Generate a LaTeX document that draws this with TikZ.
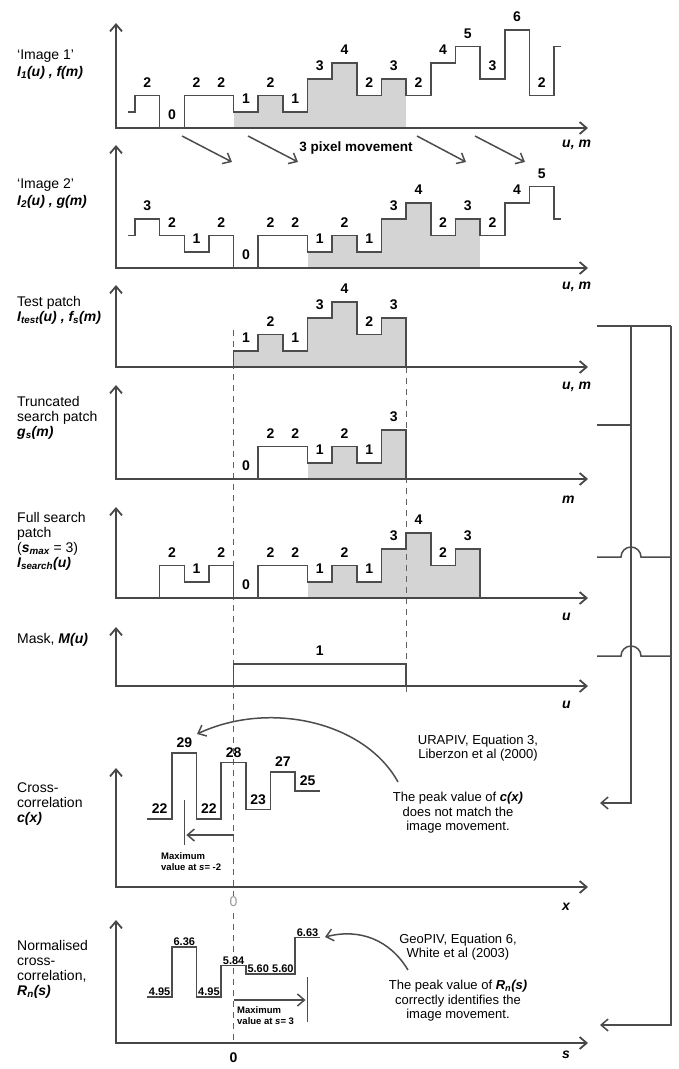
\documentclass[tikz,border=0pt]{standalone}
\usepackage{fontspec}
\setmainfont{Liberation Sans}
\usetikzlibrary{arrows.meta,positioning}
\newcommand{\vb}[1]{\textbf{\textit{#1}}}
\def\xo{135}\def\cw{24.65}\def\lh{16.3}

\begin{document}
\begin{tikzpicture}[x=1pt,y=-1pt,>={Straight Barb[length=7pt,width=12pt]},
 font=\fontsize{14}{15}\selectfont,
 ax/.style={draw=black!72,line width=1.8pt,<->},
 sig/.style={draw=black!70,line width=1.6pt},
 patch/.style={fill=black!17},
 val/.style={font=\fontsize{14}{15}\selectfont\bfseries,inner sep=0pt,anchor=south,yshift=8pt},
 cval/.style={val,yshift=-3pt},
 rval/.style={font=\fontsize{11}{12}\selectfont\bfseries,inner sep=0pt,anchor=south,yshift=1pt},
 lbl/.style={anchor=west,align=left,inner sep=0pt},
 axl/.style={anchor=west,inner sep=0pt,font=\fontsize{14}{15}\selectfont\bfseries\itshape},
 note/.style={align=center,inner sep=0pt,font=\fontsize{13}{14.5}\selectfont},
 small/.style={anchor=west,align=left,inner sep=0pt,font=\fontsize{9.5}{11}\selectfont\bfseries},
 lead/.style={draw=black!70,line width=1.5pt},
 guide/.style={draw=black!62,line width=1.3pt,dash pattern=on 6pt off 5pt}]
\useasboundingbox (0,0) rectangle (678,1069);

\node[lbl] (l1) at (17,64.5) {`Image 1'\\[2pt]\vb{I\textsubscript{1}(u) , f(m)}};
\node[lbl] (l2) at (17,193.5) {`Image 2'\\[2pt]\vb{I\textsubscript{2}(u) , g(m)}};
\node[lbl] (l3) at (17,310.5) {Test patch\\\vb{I\textsubscript{test}(u) , f\textsubscript{s}(m)}};
\node[lbl] (l4) at (17,418) {Truncated\\search patch\\\vb{g\textsubscript{s}(m)}};
\node[lbl] (l5) at (17,541) {Full search\\patch\\(\vb{s\textsubscript{max}} = 3)\\\vb{I\textsubscript{search}(u)}};
\node[lbl] (l6) at (17,640) {Mask, \vb{M(u)}};
\node[lbl] (l7) at (17,804.5) {Cross-\\correlation\\\vb{c(x)}};
\node[lbl] (l8) at (17,969) {Normalised\\cross-\\correlation,\\\vb{R\textsubscript{n}(s)}};

\foreach \v [count=\i from 4] in {1,2,1,3,4,2,3} \fill[patch] ({\xo+\i*\cw},128) rectangle ({\xo+(\i+1)*\cw},{128-\v*\lh});
\foreach \v [count=\i from 7] in {1,2,1,3,4,2,3} \fill[patch] ({\xo+\i*\cw},268) rectangle ({\xo+(\i+1)*\cw},{268-\v*\lh});
\foreach \v [count=\i from 4] in {1,2,1,3,4,2,3} \fill[patch] ({\xo+\i*\cw},367) rectangle ({\xo+(\i+1)*\cw},{367-\v*\lh});
\foreach \v [count=\i from 7] in {1,2,1,3} \fill[patch] ({\xo+\i*\cw},479) rectangle ({\xo+(\i+1)*\cw},{479-\v*\lh});
\foreach \v [count=\i from 7] in {1,2,1,3,4,2,3} \fill[patch] ({\xo+\i*\cw},598) rectangle ({\xo+(\i+1)*\cw},{598-\v*\lh});

\coordinate (g0) at ({\xo+4*\cw},330); \coordinate (g1) at ({\xo+4*\cw},1043);
\coordinate (h0) at ({\xo+11*\cw},367); \coordinate (h1) at ({\xo+11*\cw},695);
\draw[guide] (g0) -- (g1); \draw[guide] (h0) -- (h1);

\foreach \ya/\yb in {23/128,145/268,285/367,385/479,507/598,627/686,768/887,920/1043}
 \draw[ax] (116,\ya) |- (588,\yb);
\foreach \y/\s [count=\k] in {145/{u, m},287/{u, m},387/{u, m},500/m,617/u,705/u,907/x,1055/s}
 \node[axl] (ax\k) at (562,\y) {\s};

\draw[sig] (128,{128-\lh}) -- (\xo,{128-\lh}) \foreach \v [count=\i from 0] in {2,0,2,2,1,2,1,3,4,2,3,2,4,5,3,6,2}
 {-- ({\xo+\i*\cw},{128-\v*\lh}) -- ({\xo+(\i+1)*\cw},{128-\v*\lh})} -- ({\xo+17*\cw},{128-5*\lh}) -- ++(7,0);
\foreach \v [count=\i from 0] in {2,0,2,2,1,2,1,3,4,2,3,2,4,5,3,6,2}
 \node[val] (a\i) at ({\xo+(\i+.5)*\cw},{128-\v*\lh}) {\v};

\draw[sig] (128,{268-2*\lh}) -- (\xo,{268-2*\lh}) \foreach \v [count=\i from 0] in {3,2,1,2,0,2,2,1,2,1,3,4,2,3,2,4,5}
 {-- ({\xo+\i*\cw},{268-\v*\lh}) -- ({\xo+(\i+1)*\cw},{268-\v*\lh})} -- ({\xo+17*\cw},{268-3*\lh}) -- ++(7,0);
\foreach \v [count=\i from 0] in {3,2,1,2,0,2,2,1,2,1,3,4,2,3,2,4,5}
 \node[val] (b\i) at ({\xo+(\i+.5)*\cw},{268-\v*\lh}) {\v};

\draw[sig] ({\xo+4*\cw},367) \foreach \v [count=\i from 4] in {1,2,1,3,4,2,3}
 {-- ({\xo+\i*\cw},{367-\v*\lh}) -- ({\xo+(\i+1)*\cw},{367-\v*\lh})} -- ({\xo+11*\cw},367);
\foreach \v [count=\i from 4] in {1,2,1,3,4,2,3}
 \node[val] (t\i) at ({\xo+(\i+.5)*\cw},{367-\v*\lh}) {\v};

\draw[sig] ({\xo+4*\cw},479) \foreach \v [count=\i from 4] in {0,2,2,1,2,1,3}
 {-- ({\xo+\i*\cw},{479-\v*\lh}) -- ({\xo+(\i+1)*\cw},{479-\v*\lh})} -- ({\xo+11*\cw},479);
\foreach \v [count=\i from 4] in {0,2,2,1,2,1,3}
 \node[val] (r\i) at ({\xo+(\i+.5)*\cw},{479-\v*\lh}) {\v};

\draw[sig] ({\xo+\cw},598) \foreach \v [count=\i from 1] in {2,1,2,0,2,2,1,2,1,3,4,2,3}
 {-- ({\xo+\i*\cw},{598-\v*\lh}) -- ({\xo+(\i+1)*\cw},{598-\v*\lh})} -- ({\xo+14*\cw},598);
\foreach \v [count=\i from 1] in {2,1,2,0,2,2,1,2,1,3,4,2,3}
 \node[val] (f\i) at ({\xo+(\i+.5)*\cw},{598-\v*\lh}) {\v};

\draw[sig] ({\xo+4*\cw},686) -- ({\xo+4*\cw},664) -- ({\xo+11*\cw},664) -- ({\xo+11*\cw},686);
\node[val] (mk) at ({\xo+7.5*\cw},664) {1};

\draw[sig] ({\xo+.5*\cw},819) \foreach \v [count=\i] in {22,29,22,28,23,27,25}
 {-- ({\xo+(\i-.5)*\cw},{819-(\v-22)*9.43}) -- ({\xo+(\i+.5)*\cw},{819-(\v-22)*9.43})};
\foreach \v [count=\i] in {22,29,22,28,23,27,25}
 \node[cval] (c\i) at ({\xo+\i*\cw},{819-(\v-22)*9.43}) {\v};

\draw[sig] ({\xo+.5*\cw},997) \foreach \v [count=\i] in {4.95,6.36,4.95,5.84,5.60,5.60,6.63}
 {-- ({\xo+(\i-.5)*\cw},{997-(\v-4.95)*35.5}) -- ({\xo+(\i+.5)*\cw},{997-(\v-4.95)*35.5})};
\foreach \v/\s [count=\i] in {4.95/4.95,6.36/6.36,4.95/4.95,5.84/5.84,5.60/5.60,5.60/5.60,6.63/6.63}
 \node[rval] (n\i) at ({\xo+\i*\cw},{997-(\v-4.95)*35.5}) {\s};

\node[fill=white,inner sep=1pt,text=black!40] (z1) at ({\xo+4*\cw},902) {0};
\node[font=\fontsize{14}{15}\selectfont\bfseries] (z2) at ({\xo+4*\cw},1058) {0};

\coordinate (cxa) at ({\xo+2*\cw},800); \coordinate (cxb) at ({\xo+2*\cw},845); \coordinate (cx0) at ({\xo+4*\cw},835);
\draw[lead] (cxa) -- (cxb); \draw[lead,->,shorten >=2pt] (cx0) -- (cx0 -| cxa);
\node[small] (mxc) at (161,862) {Maximum\\value at \textit{s}= -2};
\coordinate (rxa) at ({\xo+7*\cw},977); \coordinate (rxb) at ({\xo+7*\cw},1022); \coordinate (rx0) at ({\xo+4*\cw},1000);
\draw[lead] (rxa) -- (rxb); \draw[lead,->,shorten >=2pt] (rx0) -- (rx0 -| rxa);
\node[small] (mxr) at (237,1016) {Maximum\\value at \textit{s}= 3};

\node[note,font=\fontsize{13.5}{15}\selectfont\bfseries] (mv) at (356,148) {3 pixel movement};
\foreach \xa/\xb [count=\k] in {182/232,248/298,417/466,475/525}
 {\coordinate (ms\k) at (\xa,136); \coordinate (me\k) at (\xb,162); \draw[lead,->] (ms\k) -- (me\k);}

\node[note] (ura) at (478,748) {URAPIV, Equation 3,\\Liberzon et al (2000)};
\node[note] (pkc) at (458,813) {The peak value of \vb{c(x)}\\does not match the\\image movement.};
\node[note] (geo) at (458,947) {GeoPIV, Equation 6,\\White et al (2003)};
\node[note] (pkr) at (458,1001) {The peak value of \vb{R\textsubscript{n}(s)}\\correctly identifies the\\image movement.};
\coordinate (ca) at (398,782); \coordinate (cb) at (197,734);
\draw[lead,->] (ca) .. controls (365,722) and (270,700) .. (cb);
\coordinate (ra) at (408,970); \coordinate (rb) at (325,937);
\draw[lead,->] (ra) .. controls (390,940) and (360,928) .. (rb);

\coordinate (tpl) at (597,326); \coordinate (tpi) at (631,326); \coordinate (tpo) at (671,326);
\coordinate (trl) at (597,425); \coordinate (fsl) at (597,557); \coordinate (mkl) at (597,656);
\coordinate (cxin) at (600,803); \coordinate (rnin) at (600,1025);
\draw[lead] (tpl) -- (tpo);
\draw[lead,->] (tpi) |- (cxin);
\draw[lead,->] (tpo) |- (rnin);
\draw[lead] (trl) -- (trl -| tpi);
\foreach \c in {fsl,mkl}
 \draw[lead] (\c) -- ++(24,0) arc[start angle=180,end angle=0,radius=10pt] -- (\c -| tpo);
\end{tikzpicture}
\end{document}
